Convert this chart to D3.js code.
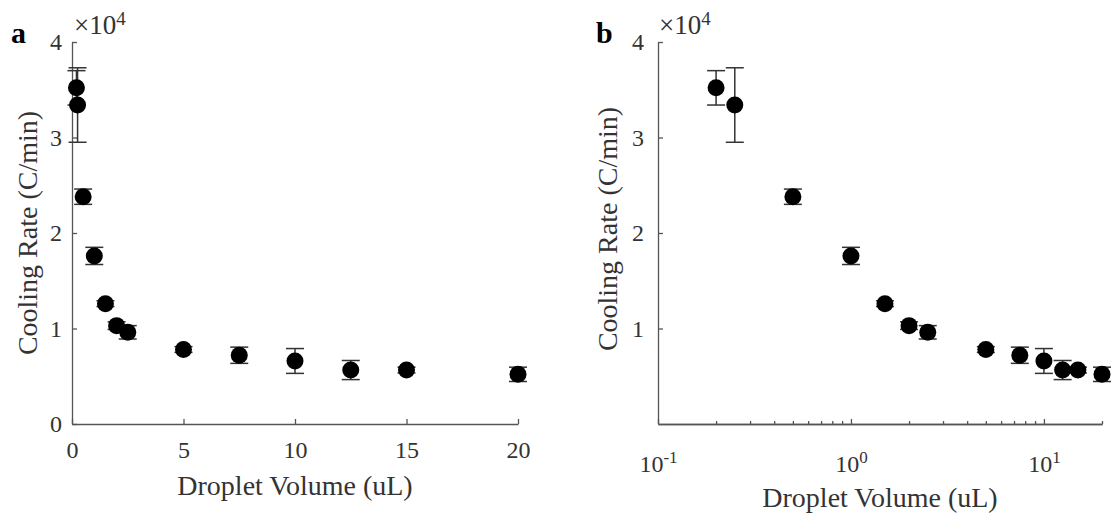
<!DOCTYPE html>
<html>
<head>
<meta charset="utf-8">
<script src="https://cdn.jsdelivr.net/npm/d3@7"></script>
<style>
  body { margin: 0; background: #fff; }
  svg { display: block; }
  text { font-family: "Liberation Serif", "Times New Roman", serif; }
</style>
</head>
<body>
<div id="chart"></div>
<script>
// droplet volume (uL), cooling rate (C/min) and its error
const volumes = [0.2, 0.25, 0.5, 1, 1.5, 2, 2.5, 5, 7.5, 10, 12.5, 15, 20];
const rates = [35200, 33400, 23800, 17600, 12600, 10300, 9600, 7800, 7200, 6600, 5650, 5650, 5200];
const errors = [1800, 3900, 800, 900, 300, 400, 700, 300, 850, 1300, 1000, 300, 750];

const linearXTicks = [0, 5, 10, 15, 20];
const logXMajor = [0.1, 1, 10];
const logXMinor = [0.2, 0.3, 0.4, 0.5, 0.6, 0.7, 0.8, 0.9, 2, 3, 4, 5, 6, 7, 8, 9, 20];
const yTicksA = [0, 10000, 20000, 30000, 40000];
const yTicksB = [10000, 20000, 30000, 40000];

const WIDTH = 1112;
const HEIGHT = 516;
const AXIS_COLOR = "#555";
const TEXT_COLOR = "#333";
const TICK_FONT = 24;
const TITLE_FONT = 28;

const data = volumes.map((v, i) => ({ volume: v, rate: rates[i], err: errors[i] }));

const svg = d3
  .select("#chart")
  .append("svg")
  .attr("width", WIDTH)
  .attr("height", HEIGHT);

function styleAxis(g) {
  g.select(".domain").attr("stroke", AXIS_COLOR).attr("stroke-width", 1.3);
  g.selectAll(".tick line").attr("stroke", AXIS_COLOR).attr("stroke-width", 1.3);
  g.selectAll(".tick text")
    .attr("fill", TEXT_COLOR)
    .style("font-size", `${TICK_FONT}px`)
    .style("font-family", '"Liberation Serif", "Times New Roman", serif');
}

function drawPanel(opts) {
  const { x, y, yTicks, letter, letterX, exponentX, yTitleX, xTitleY } = opts;
  const g = svg.append("g");
  const [x0, x1] = x.range();
  const [y0] = y.range();

  // y axis, ticks pointing inward
  const yAxisG = g
    .append("g")
    .attr("transform", `translate(${x0},0)`)
    .call(
      d3.axisLeft(y)
        .tickValues(yTicks)
        .tickSizeInner(-5)
        .tickSizeOuter(0)
        .tickPadding(opts.yPad)
        .tickFormat(d => d / 10000)
    );
  styleAxis(yAxisG);

  // x axis
  if (opts.log) {
    const minorG = g
      .append("g")
      .attr("transform", `translate(0,${y0})`)
      .call(d3.axisBottom(x).tickValues(logXMinor).tickSizeInner(-3).tickSizeOuter(0).tickFormat(""));
    styleAxis(minorG);
    const majorG = g
      .append("g")
      .attr("transform", `translate(0,${y0})`)
      .call(d3.axisBottom(x).tickValues(logXMajor).tickSizeInner(-5).tickSizeOuter(0));
    styleAxis(majorG);
    majorG.selectAll(".tick text")
      .attr("y", 48)
      .attr("dy", 0)
      .each(function(d) {
        const t = d3.select(this);
        t.text(null);
        t.append("tspan").text("10");
        t.append("tspan")
          .attr("dy", "-0.55em")
          .style("font-size", "17px")
          .text(Math.round(Math.log10(d)));
      });
  } else {
    const xAxisG = g
      .append("g")
      .attr("transform", `translate(0,${y0})`)
      .call(d3.axisBottom(x).tickValues(linearXTicks).tickSizeInner(-5).tickSizeOuter(0).tickPadding(17));
    styleAxis(xAxisG);
  }

  // error bars
  const bars = g.append("g")
    .attr("stroke", "#333")
    .attr("stroke-width", 1.5)
    .selectAll("g")
    .data(data)
    .enter()
    .append("g");
  bars.append("line")
    .attr("x1", d => x(d.volume))
    .attr("x2", d => x(d.volume))
    .attr("y1", d => y(d.rate - d.err))
    .attr("y2", d => y(d.rate + d.err));
  bars.append("line")
    .attr("x1", d => x(d.volume) - 9)
    .attr("x2", d => x(d.volume) + 9)
    .attr("y1", d => y(d.rate + d.err))
    .attr("y2", d => y(d.rate + d.err));
  bars.append("line")
    .attr("x1", d => x(d.volume) - 9)
    .attr("x2", d => x(d.volume) + 9)
    .attr("y1", d => y(d.rate - d.err))
    .attr("y2", d => y(d.rate - d.err));

  // markers
  g.append("g")
    .selectAll("circle")
    .data(data)
    .enter()
    .append("circle")
    .attr("cx", d => x(d.volume))
    .attr("cy", d => y(d.rate))
    .attr("r", 8.5)
    .attr("fill", "#000");

  // exponent label
  const ex = g.append("text")
    .attr("x", exponentX)
    .attr("y", 34)
    .attr("fill", TEXT_COLOR)
    .style("font-size", "27px");
  ex.append("tspan").text("\u00d710");
  ex.append("tspan").attr("dy", "-0.5em").style("font-size", "19px").text("4");

  // panel letter
  g.append("text")
    .attr("x", letterX)
    .attr("y", 43)
    .attr("fill", "#000")
    .style("font-size", "30px")
    .style("font-weight", "bold")
    .text(letter);

  // axis titles
  g.append("text")
    .attr("x", (x0 + x1) / 2)
    .attr("y", xTitleY)
    .attr("text-anchor", "middle")
    .attr("fill", TEXT_COLOR)
    .style("font-size", `${TITLE_FONT}px`)
    .text("Droplet Volume (uL)");

  g.append("text")
    .attr("transform", `translate(${yTitleX},${opts.yTitleY}) rotate(-90)`)
    .attr("text-anchor", "middle")
    .attr("fill", TEXT_COLOR)
    .style("font-size", `${TITLE_FONT}px`)
    .text("Cooling Rate (C/min)");
}

const yRange = [424, 42];

drawPanel({
  x: d3.scaleLinear().domain([0, 20]).range([72, 518]),
  y: d3.scaleLinear().domain([0, 40000]).range(yRange),
  yTicks: yTicksA,
  yPad: 10,
  log: false,
  letter: "a",
  letterX: 11,
  exponentX: 74,
  yTitleX: 37,
  yTitleY: 233,
  xTitleY: 495
});

drawPanel({
  x: d3.scaleLog().domain([0.1, 20]).range([658, 1102]),
  y: d3.scaleLinear().domain([0, 40000]).range(yRange),
  yTicks: yTicksB,
  yPad: 14,
  log: true,
  letter: "b",
  letterX: 596,
  exponentX: 659,
  yTitleX: 617,
  yTitleY: 229,
  xTitleY: 507
});
</script>
</body>
</html>
